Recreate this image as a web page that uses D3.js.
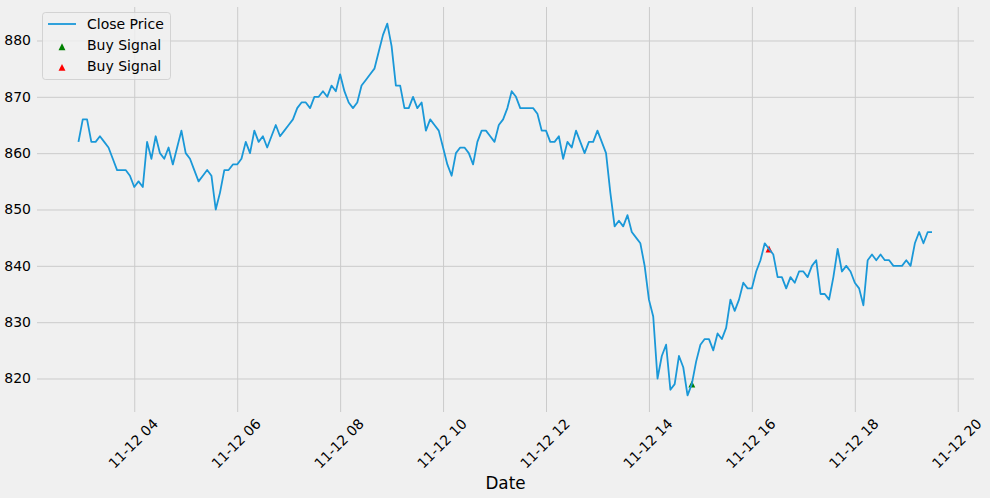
<!DOCTYPE html>
<html>
<head>
<meta charset="utf-8">
<script src="https://cdn.jsdelivr.net/npm/d3@7"></script>
<style>
  html, body { margin: 0; padding: 0; background: #f0f0f0; }
  svg { display: block; }
  text { font-family: "DejaVu Sans", sans-serif; fill: #000; }
</style>
</head>
<body>
<div id="chart"></div>
<script>
const closePrice = [
  862, 866, 866, 862, 862, 863, 862, 861, 859, 857, 857, 857, 856, 854, 855, 854, 862, 859, 863, 860,
  859, 861, 858, 861, 864, 860, 859, 857, 855, 856, 857, 856, 850, 853, 857, 857, 858, 858, 859, 862,
  860, 864, 862, 863, 861, 863, 865, 863, 864, 865, 866, 868, 869, 869, 868, 870, 870, 871, 870, 872,
  871, 874, 871, 869, 868, 869, 872, 873, 874, 875, 878, 881, 883, 879, 872, 872, 868, 868, 870, 868,
  869, 864, 866, 865, 864, 861, 858, 856, 860, 861, 861, 860, 858, 862, 864, 864, 863, 862, 865, 866,
  868, 871, 870, 868, 868, 868, 868, 867, 864, 864, 862, 862, 863, 859, 862, 861, 864, 862, 860, 862,
  862, 864, 862, 860, 853, 847, 848, 847, 849, 846, 845, 844, 840, 834, 831, 820, 824, 826, 818, 819,
  824, 822, 817, 819, 823, 826, 827, 827, 825, 828, 827, 829, 834, 832, 834, 837, 836, 836, 839, 841,
  844, 843, 842, 838, 838, 836, 838, 837, 839, 839, 838, 840, 841, 835, 835, 834, 838, 843, 839, 840,
  839, 837, 836, 833, 841, 842, 841, 842, 841, 841, 840, 840, 840, 841, 840, 844, 846, 844, 846, 846
];
const startTime = new Date(Date.UTC(2019, 10, 12, 2, 55));
const stepMinutes = 5;
const dates = closePrice.map((d, i) => d3.utcMinute.offset(startTime, i * stepMinutes));

const buySignalGreen = [{date: new Date(Date.UTC(2019, 10, 12, 14, 50)), price: 819}];
const buySignalRed = [{date: new Date(Date.UTC(2019, 10, 12, 16, 20)), price: 843}];

const xTickHours = [4, 6, 8, 10, 12, 14, 16, 18, 20];
const yTicks = [820, 830, 840, 850, 860, 870, 880];
const legendLabels = ["Close Price", "Buy Signal", "Buy Signal"];

const width = 990, height = 498;
const plot = {left: 35.8, right: 974.7, top: 5, bottom: 414};
const grid = {left: 37, right: 974, top: 7, bottom: 412};

const svg = d3.select("#chart").append("svg")
    .attr("width", width)
    .attr("height", height);

svg.append("rect")
    .attr("width", width)
    .attr("height", height)
    .attr("fill", "#f0f0f0");

const x = d3.scaleUtc()
    .domain([new Date(Date.UTC(2019, 10, 12, 2, 5, 15)), new Date(Date.UTC(2019, 10, 12, 20, 19, 45))])
    .range([plot.left, plot.right]);

const y = d3.scaleLinear()
    .domain([813.7, 886.3])
    .range([plot.bottom, plot.top]);

const xAxis = svg.append("g")
    .attr("class", "x axis")
    .attr("transform", "translate(0," + grid.bottom + ")")
    .call(d3.axisBottom(x)
        .tickValues(xTickHours.map(h => new Date(Date.UTC(2019, 10, 12, h))))
        .tickFormat(d3.utcFormat("%m-%d %H"))
        .tickSizeInner(-(grid.bottom - grid.top))
        .tickSizeOuter(0));

xAxis.selectAll("text")
    .attr("font-size", 14)
    .attr("text-anchor", "middle")
    .attr("dy", "0.35em")
    .attr("y", 0)
    .attr("transform", "translate(-1.5,31.5) rotate(-45)");

const yAxis = svg.append("g")
    .attr("class", "y axis")
    .attr("transform", "translate(" + grid.left + ",0)")
    .call(d3.axisLeft(y)
        .tickValues(yTicks)
        .tickFormat(d3.format("d"))
        .tickSizeInner(-(grid.right - grid.left))
        .tickSizeOuter(0)
        .tickPadding(6));

yAxis.selectAll("text")
    .attr("font-size", 14);

svg.selectAll(".domain").remove();
svg.selectAll(".axis line")
    .attr("stroke", "#cbcbcb")
    .attr("stroke-width", 1);
svg.selectAll(".axis text").style("font-family", '"DejaVu Sans"').attr("fill", "#000");

// matplotlib's ^ marker is as tall as it is wide, not equilateral like d3.symbolTriangle
const triangleUp = {
    draw(context, size) {
        const r = Math.sqrt(size) / 2;
        context.moveTo(0, -r);
        context.lineTo(r, r);
        context.lineTo(-r, r);
        context.closePath();
    }
};
const triangle = d3.symbol().type(triangleUp).size(48);

svg.append("g").selectAll("path")
    .data(buySignalGreen)
    .enter().append("path")
    .attr("d", triangle)
    .attr("fill", "green")
    .attr("transform", d => "translate(" + x(d.date) + "," + y(d.price) + ")");

svg.append("g").selectAll("path")
    .data(buySignalRed)
    .enter().append("path")
    .attr("d", triangle)
    .attr("fill", "red")
    .attr("transform", d => "translate(" + x(d.date) + "," + y(d.price) + ")");

const line = d3.line()
    .x((d, i) => x(dates[i]))
    .y(d => y(d));

svg.append("path")
    .datum(closePrice)
    .attr("fill", "none")
    .attr("stroke", "#1a98d8")
    .attr("stroke-width", 1.8)
    .attr("stroke-linejoin", "round")
    .attr("d", line);

svg.append("text")
    .attr("x", 505.5)
    .attr("y", 488.5)
    .attr("text-anchor", "middle")
    .attr("font-size", 16.8)
    .text("Date");

// legend
const legend = svg.append("g");

legend.append("rect")
    .attr("x", 42.5)
    .attr("y", 12.5)
    .attr("width", 128)
    .attr("height", 67)
    .attr("rx", 3)
    .attr("fill", "#f0f0f0")
    .attr("fill-opacity", 0.8)
    .attr("stroke", "#cccccc")
    .attr("stroke-opacity", 0.8);

legend.append("line")
    .attr("x1", 48)
    .attr("x2", 76)
    .attr("y1", 24)
    .attr("y2", 24)
    .attr("stroke", "#1a98d8")
    .attr("stroke-width", 1.8);

legend.append("path")
    .attr("d", triangle)
    .attr("fill", "green")
    .attr("transform", "translate(62,46.7)");

legend.append("path")
    .attr("d", triangle)
    .attr("fill", "red")
    .attr("transform", "translate(62,67.4)");

legend.selectAll("text")
    .data(legendLabels)
    .enter().append("text")
    .attr("x", 87)
    .attr("y", (d, i) => 29 + i * 21)
    .attr("font-size", 14)
    .text(d => d);
</script>
</body>
</html>
